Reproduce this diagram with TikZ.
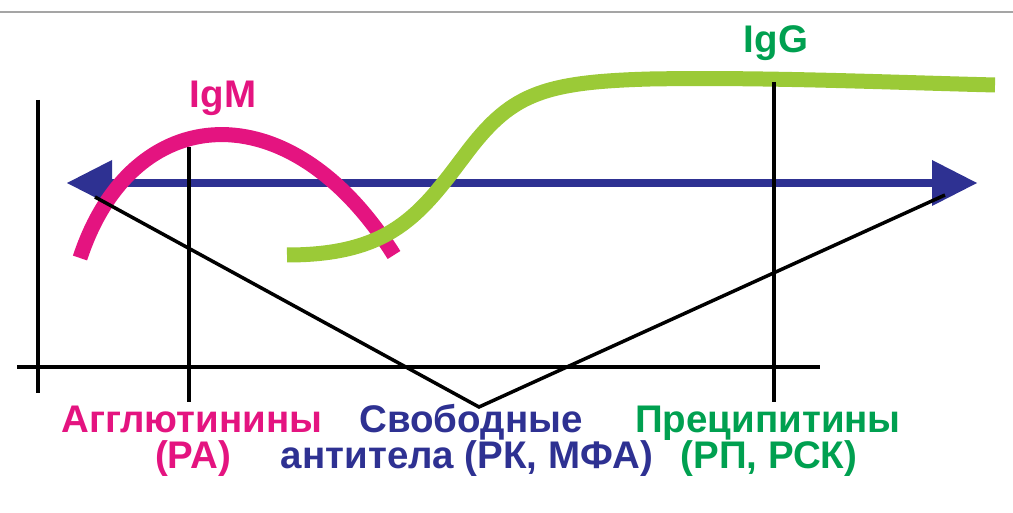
\documentclass[tikz,border=0pt]{standalone}
\usepackage{fontspec}
\setmainfont{Liberation Sans}
\usetikzlibrary{arrows.meta}
\definecolor{igmpink}{RGB}{228,20,128}
\definecolor{lblgreen}{RGB}{0,160,80}
\definecolor{arrblue}{RGB}{46,49,146}
\definecolor{limegreen}{RGB}{155,202,55}
\definecolor{rulegray}{RGB}{165,165,165}
\begin{document}
\begin{tikzpicture}[x=1pt,y=-1pt,
  lbl/.style={font=\fontsize{38.5}{42}\selectfont\bfseries, inner sep=0pt, anchor=base},
  axisline/.style={black, line width=4pt},
  vline/.style={black, line width=3.5pt, line join=miter},
  curveband/.style={line width=15pt, line cap=butt},
  bluearrow/.style={arrblue, line width=8pt,
    {Triangle[length=45pt,width=46pt,line width=0pt]}-{Triangle[length=45pt,width=46pt,line width=0pt]}}]
\useasboundingbox (0,0) rectangle (1013,513);
% top rule
\coordinate (rl) at (0,12);
\coordinate (rr) at (1013,12);
\draw[rulegray, line width=2.5pt] (rl) -- (rr);
% coordinates
\coordinate (al) at (67,183);
\coordinate (ar) at (977,183);
\coordinate (m0) at (80,258);
\coordinate (m1) at (394,255);
\coordinate (g0) at (287,255);
\coordinate (g1) at (465,155);
\coordinate (g2) at (650,79);
\coordinate (g3) at (995,85);
\coordinate (v1t) at (38,100);
\coordinate (v1b) at (38,393);
\coordinate (hl) at (17,367);
\coordinate (hr) at (820,367);
\coordinate (v2t) at (189,147);
\coordinate (v2b) at (189,402);
\coordinate (v3t) at (774,82);
\coordinate (v3b) at (774,402);
\coordinate (vs) at (95,197);
\coordinate (vv) at (479,407);
\coordinate (ve) at (945,195);
% blue double arrow
\draw[bluearrow] (al) -- (ar);
% IgM curve
\draw[curveband, igmpink] (m0) .. controls (132,100) and (290,88) .. (m1);
% IgG curve
\draw[curveband, limegreen] (g0) .. controls (390,255) and (420,215) .. (g1)
  .. controls (510,95) and (540,82) .. (g2)
  .. controls (760,77) and (880,82) .. (g3);
% axes and guide lines
\draw[axisline] (v1t) -- (v1b);
\draw[axisline] (hl) -- (hr);
\draw[axisline] (v2t) -- (v2b);
\draw[axisline] (v3t) -- (v3b);
\draw[vline] (vs) -- (vv) -- (ve);
% labels
\node[lbl, igmpink] (igm) at (223,108) {IgM};
\node[lbl, lblgreen] (igg) at (776,53) {IgG};
\node[lbl, igmpink] (agg1) at (192,432) {Агглютинины};
\node[lbl, igmpink] (agg2) at (193,468) {(РА)};
\node[lbl, arrblue] (free1) at (471,432) {Свободные};
\node[lbl, arrblue] (free2) at (467,468) {антитела (РК, МФА)};
\node[lbl, lblgreen] (prec1) at (768,432) {Преципитины};
\node[lbl, lblgreen] (prec2) at (769,468) {(РП, РСК)};
\end{tikzpicture}
\end{document}
